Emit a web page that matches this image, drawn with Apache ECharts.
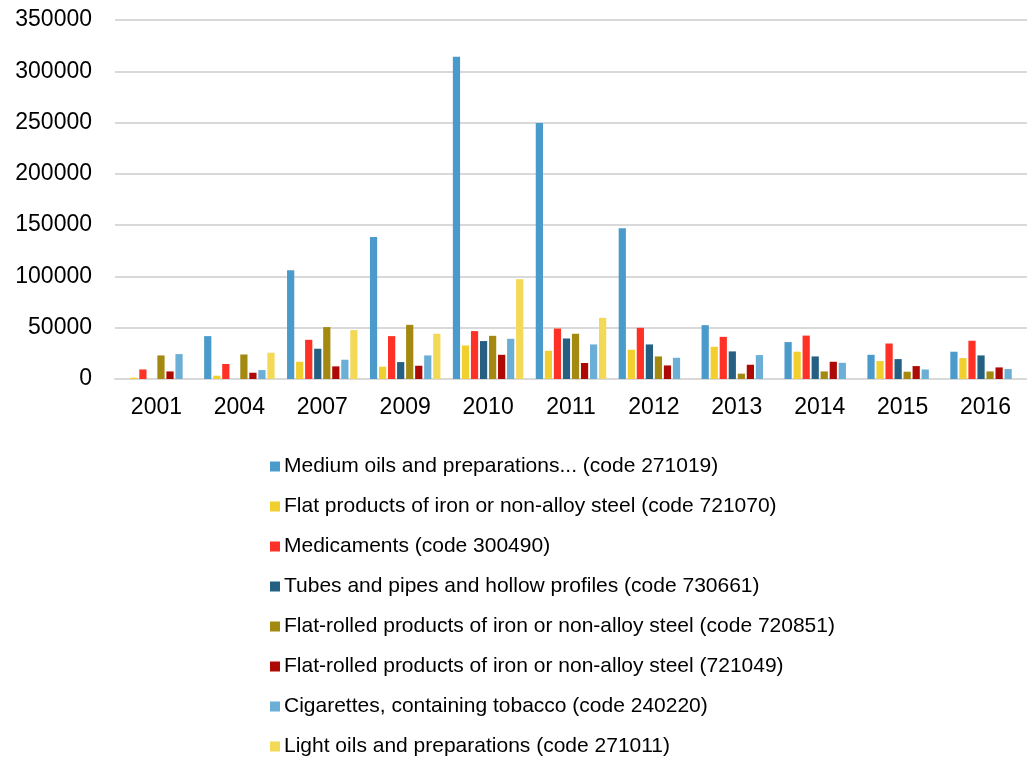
<!DOCTYPE html>
<html>
<head>
<meta charset="utf-8">
<script src="https://cdn.jsdelivr.net/npm/echarts@6/dist/echarts.min.js"></script>
<style>
  html, body { margin: 0; padding: 0; background: #fff; }
  #chart { width: 1027px; height: 758px; }
</style>
</head>
<body>
<div id="chart"></div>
<script>
// Export values by year for eight product codes
const years = ['2001', '2004', '2007', '2009', '2010', '2011', '2012', '2013', '2014', '2015', '2016'];

const mediumOils      = [0, 41800, 106000, 138400, 314200, 249600, 146900, 52500, 36000, 23600, 26600];
const flatProducts    = [1300, 3200, 16800, 12000, 32700, 27500, 28500, 31400, 26600, 17500, 20400];
const medicaments     = [9300, 14600, 38200, 41800, 46700, 49200, 49900, 41100, 42300, 34600, 37300];
const tubesPipes      = [0, 0, 29500, 16500, 37000, 39500, 33700, 26900, 22000, 19400, 23000];
const flatRolled851   = [23000, 23900, 50600, 52800, 42100, 44100, 22000, 5200, 7400, 7100, 7400];
const flatRolled049   = [7400, 6100, 12300, 12900, 23600, 15600, 13200, 13900, 16800, 12600, 11300];
const cigarettes      = [24300, 8700, 18800, 23000, 39200, 33700, 20700, 23300, 15800, 9300, 9700];
const lightOils       = [0, 25600, 47700, 44100, 97300, 59600, 0, 0, 0, 0, 0];

const yTicks = [0, 50000, 100000, 150000, 200000, 250000, 300000, 350000];

const seriesDefs = [
  { name: 'Medium oils and preparations... (code 271019)', data: mediumOils, color: '#4a9bcb' },
  { name: 'Flat products of iron or non-alloy steel (code 721070)', data: flatProducts, color: '#f0cf2e' },
  { name: 'Medicaments (code 300490)', data: medicaments, color: '#ff3025' },
  { name: 'Tubes and pipes and hollow profiles (code 730661)', data: tubesPipes, color: '#256083' },
  { name: 'Flat-rolled products of iron or non-alloy steel (code 720851)', data: flatRolled851, color: '#a48911' },
  { name: 'Flat-rolled products of iron or non-alloy steel (721049)', data: flatRolled049, color: '#ae0a05' },
  { name: 'Cigarettes, containing tobacco (code 240220)', data: cigarettes, color: '#6baed6' },
  { name: 'Light oils and preparations (code 271011)', data: lightOils, color: '#f3d955' }
];

const chart = echarts.init(document.getElementById('chart'), null, { renderer: 'canvas' });

chart.setOption({
  animation: false,
  textStyle: { fontFamily: 'Liberation Sans, Arial, sans-serif' },
  grid: { left: 115, right: 0, top: 20, bottom: 379, containLabel: false },
  legend: {
    orient: 'vertical',
    left: 265,
    top: 451,
    height: 320,
    itemWidth: 10,
    itemHeight: 10,
    itemGap: 19,
    icon: 'rect',
    textStyle: {
      fontSize: 21, lineHeight: 21, color: '#000',
      fontFamily: 'Liberation Sans, Arial, sans-serif', padding: [0, 0, 0, -1]
    },
    data: seriesDefs.map(s => s.name)
  },
  xAxis: {
    type: 'category',
    data: years,
    axisTick: { show: false },
    axisLine: { show: true, lineStyle: { color: '#d9d9d9', width: 2 } },
    axisLabel: { fontSize: 23, color: '#000', margin: 17 }
  },
  yAxis: {
    type: 'value',
    min: 0,
    max: yTicks[yTicks.length - 1],
    interval: yTicks[1] - yTicks[0],
    axisLine: { show: false },
    axisTick: { show: false },
    axisLabel: { fontSize: 23, color: '#000', margin: 23, formatter: v => String(v) },
    splitLine: { lineStyle: { color: '#d9d9d9', width: 2 } }
  },
  series: seriesDefs.map(s => ({
    type: 'bar',
    name: s.name,
    data: s.data,
    barCategoryGap: '15%',
    barGap: '25%',
    itemStyle: { color: s.color }
  }))
});
</script>
</body>
</html>
